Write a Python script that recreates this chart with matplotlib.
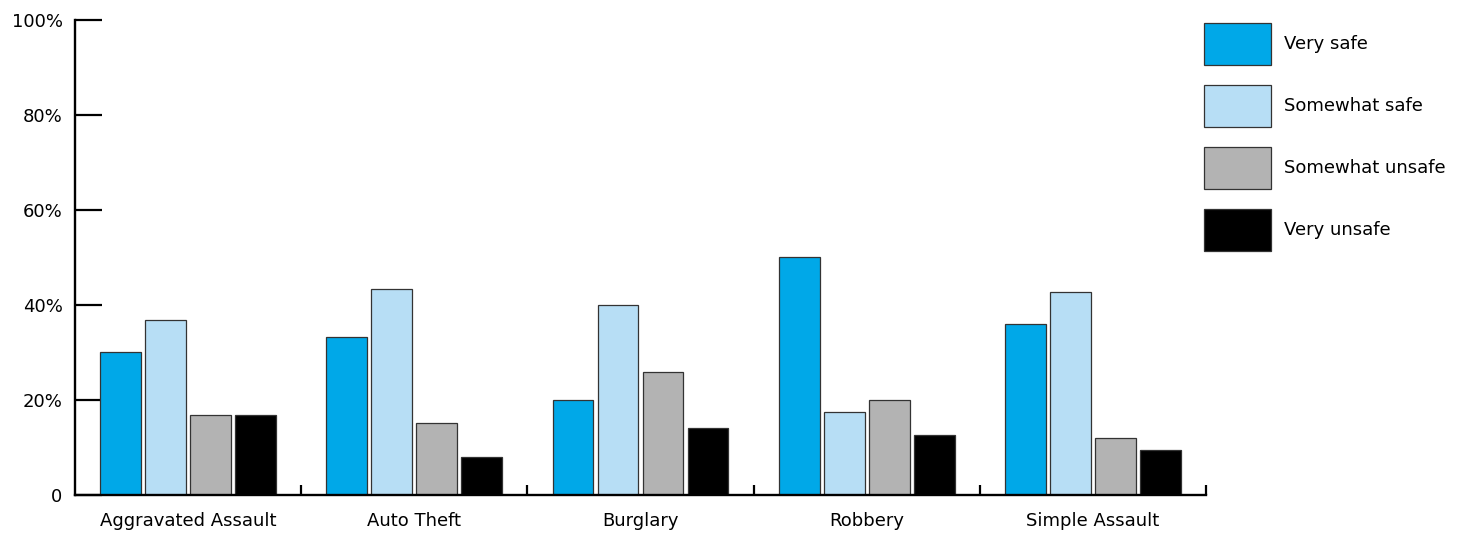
import numpy as np
import matplotlib
matplotlib.use('Agg')
import matplotlib.pyplot as plt
from matplotlib.ticker import FixedLocator, FixedFormatter

# %% data
crimes = ['Aggravated Assault', 'Auto Theft', 'Burglary', 'Robbery', 'Simple Assault']
levels = ['Very safe', 'Somewhat safe', 'Somewhat unsafe', 'Very unsafe']
very_safe = [30.0, 33.3, 20.0, 50.0, 36.1]
somewhat_safe = [36.8, 43.4, 40.0, 17.5, 42.7]
somewhat_unsafe = [16.8, 15.2, 25.9, 20.0, 12.0]
very_unsafe = [16.8, 8.1, 14.2, 12.6, 9.4]
colors = ['#00a8e8', '#b7def5', '#b3b3b3', '#000000']
ytick_vals = [0, 20, 40, 60, 80, 100]
ytick_labels = ['0', '20%', '40%', '60%', '80%', '100%']

# %% plot
plt.rcParams['font.family'] = 'DejaVu Sans'
fig = plt.figure(figsize=(14.66, 5.33), dpi=100)
ax = fig.add_axes([0.0512, 0.0713, 0.7714, 0.8912])

x = np.arange(len(crimes))
width, step = 0.181, 0.199
series = [very_safe, somewhat_safe, somewhat_unsafe, very_unsafe]
for i, (vals, c, lab) in enumerate(zip(series, colors, levels)):
    ax.bar(x + (i - 1.5) * step, vals, width, color=c, edgecolor='#333333',
           linewidth=0.9, label=lab)

ax.set_xlim(-0.5, len(crimes) - 0.5)
ax.set_ylim(0, 100)
ax.set_axisbelow(True)

for s in ['top', 'right']:
    ax.spines[s].set_visible(False)
for s in ['left', 'bottom']:
    ax.spines[s].set_linewidth(1.7)
    ax.spines[s].set_color('black')

fsz = 13
ax.yaxis.set_major_locator(FixedLocator(ytick_vals))
ax.yaxis.set_major_formatter(FixedFormatter(ytick_labels))
ax.tick_params(axis='y', direction='in', length=19.5, width=1.6,
               pad=9, labelsize=fsz, colors='black')

# boundary ticks between groups, labels centred on groups
ax.xaxis.set_major_locator(FixedLocator(np.arange(0.5, len(crimes), 1.0)))
ax.xaxis.set_major_formatter(FixedFormatter([''] * len(crimes)))
ax.xaxis.set_minor_locator(FixedLocator(x))
ax.xaxis.set_minor_formatter(FixedFormatter(crimes))
ax.tick_params(axis='x', which='major', direction='in', length=7, width=1.6)
ax.tick_params(axis='x', which='minor', length=0, pad=12, labelsize=fsz)

fs = fsz * 100 / 72
ax.legend(loc='upper left', bbox_to_anchor=(1204 / 1466, 1 - 23 / 533),
          bbox_transform=fig.transFigure, frameon=False, fontsize=fsz,
          handlelength=67 / fs, handleheight=3.2, labelspacing=20 / fs,
          handletextpad=13 / fs, borderpad=0, borderaxespad=0)

plt.savefig('out.png', dpi=100)
